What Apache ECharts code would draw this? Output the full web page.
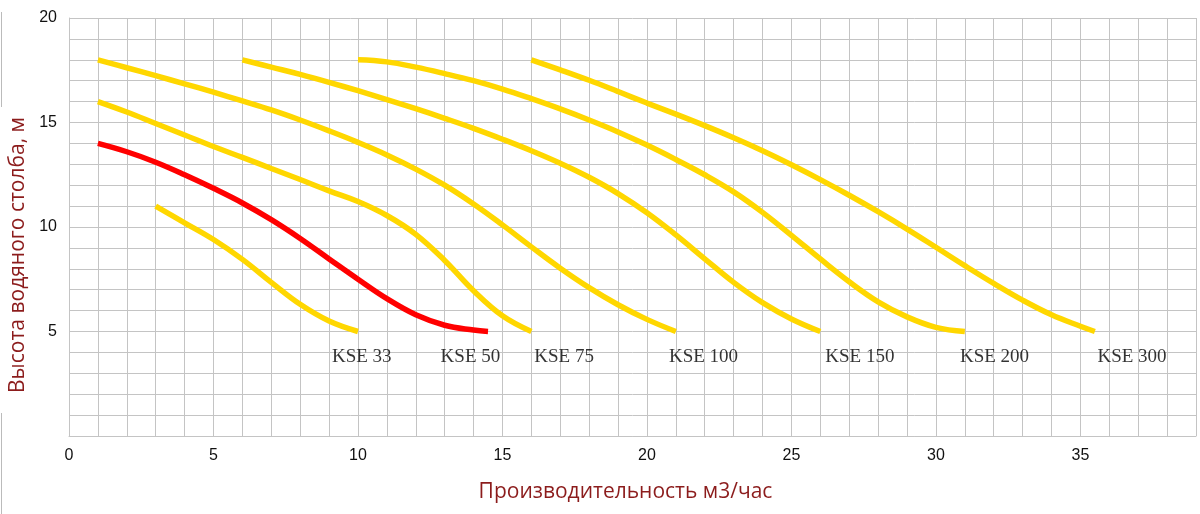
<!DOCTYPE html>
<html>
<head>
<meta charset="utf-8">
<script src="https://cdn.jsdelivr.net/npm/echarts@6/dist/echarts.min.js"></script>
<style>
html,body{margin:0;padding:0;background:#fff;}
#chart{width:1200px;height:514px;}
</style>
</head>
<body>
<div id="chart"></div>
<script>
// ---- data ----
const seriesNames = ['KSE 33', 'KSE 50', 'KSE 75', 'KSE 100', 'KSE 150', 'KSE 200', 'KSE 300'];

const kse33 = [[3,11],[4,10.2],[5,9.4],[6,8.45],[7,7.35],[8,6.3],[9,5.5],[10,5.0]];
const kse50 = [[1,14],[2,13.6],[3,13.1],[4,12.5],[5,11.85],[6,11.15],[7,10.35],[8,9.45],[9,8.47],[10,7.5],[11,6.57],[12,5.8],[13,5.3],[14,5.07],[14.5,5.0]];
const kse75 = [[1,16],[2,15.5],[3,14.95],[4,14.4],[5,13.85],[6,13.33],[7,12.8],[8,12.27],[9,11.73],[10,11.22],[11,10.55],[12,9.65],[13,8.4],[14,6.95],[15,5.75],[16,5.0]];
const kse100 = [[1,18],[2,17.62],[3,17.24],[4,16.85],[5,16.45],[6,16.03],[7,15.6],[8,15.12],[9,14.6],[10,14.05],[11,13.45],[12,12.77],[13,12.0],[14,11.1],[15,10.1],[16,9.05],[17,8.03],[18,7.1],[19,6.28],[20,5.58],[21,5.0]];
const kse150 = [[6,18],[7,17.65],[8,17.3],[9,16.92],[10,16.52],[11,16.1],[12,15.66],[13,15.2],[14,14.72],[15,14.2],[16,13.65],[17,13.05],[18,12.38],[19,11.6],[20,10.68],[21,9.62],[22,8.48],[23,7.35],[24,6.38],[25,5.6],[26,5.0]];
const kse200 = [[10,18],[11,17.9],[12,17.65],[13,17.34],[14,17.0],[15,16.6],[16,16.14],[17,15.65],[18,15.12],[19,14.55],[20,13.92],[21,13.23],[22,12.5],[23,11.68],[24,10.7],[25,9.6],[26,8.47],[27,7.38],[28,6.42],[29,5.7],[30,5.2],[31,5.0]];
const kse300 = [[16,18],[17,17.52],[18,17.02],[19,16.48],[20,15.93],[21,15.4],[22,14.85],[23,14.27],[24,13.65],[25,12.98],[26,12.27],[27,11.52],[28,10.73],[29,9.9],[30,9.03],[31,8.15],[32,7.3],[33,6.5],[34,5.8],[35,5.25],[35.5,5.0]];

const curveData = [kse33, kse50, kse75, kse100, kse150, kse200, kse300];
const curveColors = ['#FFD700', '#FF0000', '#FFD700', '#FFD700', '#FFD700', '#FFD700', '#FFD700'];

// curve labels (left edge x, centre y)
const labelX = [9.1, 12.86, 16.1, 20.76, 26.17, 30.83, 35.59];
const labelY = [3.78, 3.78, 3.78, 3.78, 3.78, 3.78, 3.78];

// tick labels
const xTickLabels = [0, 5, 10, 15, 20, 25, 30, 35];
const yTickLabels = [5, 10, 15, 20];

const xAxisTitle = 'Производительность м3/час';
const yAxisTitle = 'Высота водяного столба, м';

// ---- chart ----
const chart = echarts.init(document.getElementById('chart'), null, {renderer: 'canvas'});

const gridColor = '#c4c4c4';
const titleColor = '#8c1c1c';

const series = curveData.map((d, i) => ({
  name: seriesNames[i],
  type: 'line',
  data: d,
  smooth: 0.4,
  showSymbol: false,
  symbol: 'none',
  lineStyle: {color: curveColors[i], width: 5.5},
  z: i === 1 ? 4 : 3
}));

series.push({
  name: 'labels',
  type: 'scatter',
  symbolSize: 0,
  data: seriesNames.map((n, i) => ({name: n, value: [labelX[i], labelY[i]]})),
  label: {
    show: true,
    position: 'right',
    distance: 0,
    formatter: p => p.name,
    fontFamily: '"Liberation Serif", "DejaVu Serif", serif',
    fontSize: 19,
    color: '#000'
  },
  silent: true,
  z: 5
});

chart.setOption({
  animation: false,
  backgroundColor: '#fff',
  grid: {left: 69, right: 4, top: 18, bottom: 78, containLabel: false, outerBoundsMode: 'none'},
  xAxis: {
    type: 'value',
    min: 0, max: 39, interval: 1,
    name: xAxisTitle,
    nameLocation: 'middle',
    nameGap: 46,
    nameTextStyle: {color: titleColor, fontSize: 21, fontFamily: '"Open Sans", "Noto Sans", sans-serif', padding: [0, 14, 0, 0]},
    axisLine: {show: true, lineStyle: {color: gridColor, width: 1}},
    axisTick: {show: false},
    axisLabel: {
      color: '#111', fontSize: 16, fontFamily: '"Liberation Sans", Arial, sans-serif', margin: 12,
      formatter: v => xTickLabels.indexOf(v) >= 0 ? String(v) : ''
    },
    splitLine: {show: true, lineStyle: {color: gridColor, width: 1}}
  },
  yAxis: {
    type: 'value',
    min: 0, max: 20, interval: 1,
    name: yAxisTitle,
    nameLocation: 'middle',
    nameGap: 39,
    nameRotate: 90,
    nameTextStyle: {color: titleColor, fontSize: 21, fontFamily: '"Open Sans", "Noto Sans", sans-serif', padding: [0, 56, 0, 0]},
    axisLine: {show: true, lineStyle: {color: gridColor, width: 1}},
    axisTick: {show: false},
    axisLabel: {
      color: '#111', fontSize: 16, fontFamily: '"Liberation Sans", Arial, sans-serif', margin: 12,
      formatter: v => yTickLabels.indexOf(v) >= 0 ? String(v) : ''
    },
    splitLine: {show: true, lineStyle: {color: gridColor, width: 1}}
  },
  graphic: [
    {type: 'line', shape: {x1: 1.5, y1: 12, x2: 1.5, y2: 107}, style: {stroke: '#bbb', lineWidth: 1}, silent: true},
    {type: 'line', shape: {x1: 1.5, y1: 413, x2: 1.5, y2: 514}, style: {stroke: '#bbb', lineWidth: 1}, silent: true}
  ],
  series: series
});
</script>
</body>
</html>
